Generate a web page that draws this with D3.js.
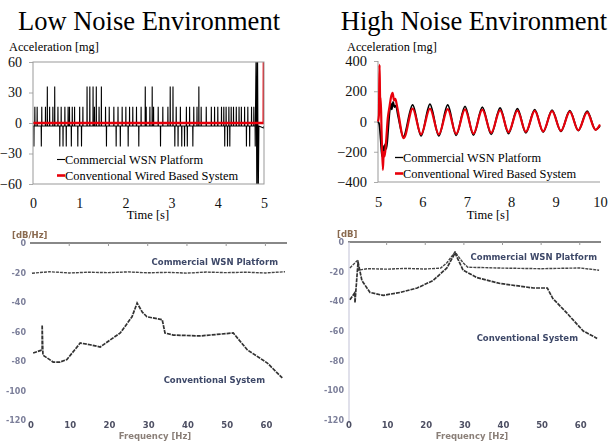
<!DOCTYPE html>
<html>
<head>
<meta charset="utf-8">
<script src="https://cdn.jsdelivr.net/npm/d3@7"></script>
<style>
    body { margin: 0; background: #fff; }
    svg { display: block; font-family: "Liberation Serif", "Times New Roman", serif; }
    .axis path { display: none; }
    .axis line { stroke: #aaa; }
    .spec text { font-family: "DejaVu Sans", sans-serif; font-weight: bold; }
</style>
</head>
<body>
<div id="vis-container"></div>
<script>
/* ---- data ---- */

// ticks
var lowYTicks = [-60, -30, 0, 30, 60];
var lowXTicks = [0, 1, 2, 3, 4, 5];
var highYTicks = [-400, -200, 0, 200, 400];
var highXTicks = [5, 6, 7, 8, 9, 10];
var freqTicks = [0, 10, 20, 30, 40, 50, 60];
var dbTicks = [0, -20, -40, -60, -80, -100, -120];

// low noise: WSN signal sits on a small offset and jumps in quantised steps
var lowWsnBase = -3;
var lowUp35Times = [0.31, 0.47, 1.17, 1.23, 1.30, 1.37, 1.48, 2.43, 2.58, 2.97, 3.03, 3.59];
var lowUp15Times = [0.04, 0.09, 0.19, 0.27, 0.36, 0.43, 0.54, 0.61, 0.69, 0.76, 0.79, 0.85, 0.90, 1.01, 1.08,
    1.33, 1.43, 1.57, 1.65, 1.75, 1.84, 1.93, 2.01, 2.09, 2.16, 2.24, 2.34, 2.45, 2.53, 2.61, 2.71, 2.81,
    2.92, 3.10, 3.19, 3.32, 3.39, 3.48, 3.55, 3.64, 3.75, 3.86, 3.93, 4.00, 4.08, 4.13, 4.18, 4.24, 4.29,
    4.34, 4.40, 4.46, 4.51, 4.58, 4.65, 4.73, 4.78];
var lowDown25Times = [0.02, 0.18, 0.58, 0.65, 0.72, 0.83, 0.97, 1.05, 1.59, 1.80, 1.89, 2.06, 2.29, 2.76,
    3.07, 3.14, 3.22, 3.28, 3.34, 3.46, 4.15, 4.21, 4.26, 4.62, 4.69, 4.81];
var lowEndTimes = [4.83, 4.845, 4.86, 4.875, 4.89, 4.99, 5.0];
var lowEndValues = [75, -75, 75, -75, -3, -5, -3];
var lowWiredTimes = [0, 4.995, 5.0];
var lowWiredValues = [0, 0, 75];

// high noise: damped oscillation
var highWiredTimes = [5.00, 5.02, 5.035, 5.048, 5.06, 5.08, 5.11, 5.13, 5.15, 5.18, 5.22, 5.26, 5.30, 5.33, 5.36,
    5.39, 5.43, 5.58, 5.78, 5.97, 6.17, 6.37, 6.57, 6.76, 6.96, 7.15, 7.35, 7.55, 7.75, 7.94, 8.14, 8.33,
    8.53, 8.72, 8.92, 9.12, 9.32, 9.51, 9.71, 9.90, 10.0];
var highWiredValues = [0, 40, 375, 150, 160, -60, -320, -200, -230, -140, 20, 100, 170, 190, 140,
    150, 100, -110, 85, -85, 85, -85, 82, -82, 80, -80, 78, -75, 75, -70, 72, -68,
    70, -65, 68, -62, 65, -58, 60, -55, -20];
var highWsnTimes = [5.00, 5.03, 5.06, 5.09, 5.11, 5.13, 5.16, 5.19, 5.23, 5.26, 5.29, 5.31, 5.34, 5.37, 5.40,
    5.45, 5.57, 5.78, 5.97, 6.17, 6.37, 6.57, 6.76, 6.96, 7.15, 7.35, 7.55, 7.75, 7.94, 8.14, 8.33,
    8.53, 8.72, 8.92, 9.12, 9.32, 9.51, 9.71, 9.90, 10.0];
var highWsnValues = [0, -20, -120, -230, -160, -220, -150, -180, -50, 60, 120, 80, 130, 95, 105,
    40, -100, 110, -95, 115, -95, 110, -92, 100, -90, 95, -85, 90, -80, 85, -75,
    78, -70, 75, -65, 72, -60, 68, -55, -30];

// spectra (Hz, dB)
var specLeftWsnHz = [0.5, 5, 10, 15, 20, 25, 30, 35, 40, 45, 50, 55, 60, 65];
var specLeftWsnDb = [-20.5, -19.5, -20.3, -19.8, -20.1, -19.6, -20.2, -19.9, -20.4, -19.7, -20.1, -19.8, -20.3, -19.5];
var specLeftConvHz = [0.8, 3.1, 3.1, 3.3, 5.9, 7.7, 9.4, 12.8, 15.3, 17.9, 20.4, 23, 26, 27.3, 28.6, 29.8,
    33.7, 34.4, 36.5, 43.4, 51.8, 55.4, 60.5, 64.3];
var specLeftConvDb = [-74.6, -72.5, -55.6, -76, -80.7, -80.7, -79, -67.8, -69, -70.5, -65.8, -61, -50, -40.7, -46.8, -50,
    -52, -61, -62.4, -63, -61, -72.5, -81.4, -91.5];
var specRightWsnHz = [0.5, 2.6, 2.6, 5, 10, 15, 20, 24, 25.6, 27.7, 29.8, 31, 40, 50, 60, 65];
var specRightWsnDb = [-17.5, -12, -19, -18, -18.3, -17.8, -18.2, -17.6, -14, -6.7, -14, -17, -17.6, -18, -17.5, -19];
var specRightConvHz = [0.5, 1.8, 1.8, 2.6, 3.6, 5.7, 9.1, 13.5, 17.9, 22, 25.6, 27.7, 29.8, 33.4, 39.4, 48,
    51.6, 53, 56.7, 60.9, 64.5];
var specRightConvDb = [-39, -34, -41, -13.5, -26, -34, -36, -34, -31, -26, -17.5, -7.4, -19, -24, -28, -31,
    -31, -38, -48, -60, -65];

/* ---- svg ---- */
var width = 610;
var height = 444;
var serif = "Liberation Serif, Times New Roman, serif";
var svg = d3.select("#vis-container").append("svg").attr("width", width).attr("height", height);
var defs = svg.append("defs");
defs.append("filter").attr("id", "soft")
    .append("feGaussianBlur").attr("stdDeviation", 0.75);

function zip(xs, ys) {
    return xs.map(function (x, i) { return {t: x, v: ys[i]}; });
}

// make d3 axis labels look like the spreadsheet ones
function styleAxis(g, size) {
    g.attr("font-family", serif).attr("font-size", size);
    g.selectAll("text")
        .attr("font-family", serif)
        .attr("font-size", size)
        .attr("fill", "#111");
}

// ---------- top left: low noise ----------
var xLow = d3.scaleLinear().domain([0, 5]).range([33, 264]);
var yLow = d3.scaleLinear().domain([-60, 60]).range([184, 62]);

defs.append("clipPath").attr("id", "clip-low").append("rect")
    .attr("x", 33).attr("y", 62).attr("width", 231).attr("height", 122);

svg.append("text").text("Low Noise Environment")
    .attr("x", 149).attr("y", 30).attr("text-anchor", "middle").attr("font-size", 26.5);
svg.append("text").text("Acceleration [mg]").attr("x", 9).attr("y", 51).attr("font-size", 12.3);

svg.append("g").attr("class", "axis")
    .attr("transform", "translate(33,0)")
    .call(d3.axisLeft(yLow).tickValues(lowYTicks).tickFormat(d3.format("d")).tickSize(4).tickPadding(7))
    .call(styleAxis, 14);
svg.append("g").attr("class", "axis")
    .attr("transform", "translate(0,184)")
    .call(d3.axisBottom(xLow).tickValues(lowXTicks).tickFormat(d3.format("d")).tickSize(0).tickPadding(14))
    .call(styleAxis, 14);
svg.append("text").text("Time [s]").attr("x", 148).attr("y", 219)
    .attr("text-anchor", "middle").attr("font-size", 12.5);

// build WSN trace from the spike lists
var lowSpikes = [];
lowUp35Times.forEach(function (t) { lowSpikes.push({t: t, v: 36}); });
lowUp15Times.forEach(function (t) { lowSpikes.push({t: t, v: 16}); });
lowDown25Times.forEach(function (t) { lowSpikes.push({t: t, v: -23}); });
lowSpikes.sort(function (a, b) { return a.t - b.t; });
var lowWsn = [{t: 0, v: lowWsnBase}];
lowSpikes.forEach(function (s) {
    lowWsn.push({t: s.t - 0.003, v: lowWsnBase}, {t: s.t, v: s.v}, {t: s.t + 0.003, v: lowWsnBase});
});
lowWsn = lowWsn.concat(zip(lowEndTimes, lowEndValues));

var lineLow = d3.line()
    .x(function (d) { return xLow(d.t); })
    .y(function (d) { return yLow(d.v); });

var lowPlot = svg.append("g").attr("clip-path", "url(#clip-low)");
lowPlot.append("path").datum(lowWsn).attr("d", lineLow)
    .attr("fill", "none").attr("stroke", "#000").attr("stroke-width", 1.1);
lowPlot.append("path").datum(zip(lowWiredTimes, lowWiredValues)).attr("d", lineLow)
    .attr("fill", "none").attr("stroke", "#e8000b").attr("stroke-width", 2.6);

svg.append("rect").attr("x", 33).attr("y", 62).attr("width", 231).attr("height", 122)
    .attr("fill", "none").attr("stroke", "#999").attr("stroke-width", 1);

// legend
var legLow = svg.append("g");
legLow.append("rect").attr("x", 55).attr("y", 151).attr("width", 185).attr("height", 31).attr("fill", "#fff");
legLow.append("line").attr("x1", 57).attr("x2", 65).attr("y1", 159.5).attr("y2", 159.5)
    .attr("stroke", "#000").attr("stroke-width", 1.1);
legLow.append("text").text("Commercial WSN Platform").attr("x", 65).attr("y", 164).attr("font-size", 12.4);
legLow.append("line").attr("x1", 57).attr("x2", 65).attr("y1", 175.5).attr("y2", 175.5)
    .attr("stroke", "#e8000b").attr("stroke-width", 2.6);
legLow.append("text").text("Conventional Wired Based System").attr("x", 65).attr("y", 180).attr("font-size", 12.4);

// ---------- top right: high noise ----------
var xHigh = d3.scaleLinear().domain([5, 10]).range([378, 600]);
var yHigh = d3.scaleLinear().domain([-400, 400]).range([182, 61]);

svg.append("text").text("High Noise Environment")
    .attr("x", 474).attr("y", 30).attr("text-anchor", "middle").attr("font-size", 26.5);
svg.append("text").text("Acceleration [mg]").attr("x", 347).attr("y", 51).attr("font-size", 12.3);

svg.append("g").attr("class", "axis")
    .attr("transform", "translate(378,0)")
    .call(d3.axisLeft(yHigh).tickValues(highYTicks).tickFormat(d3.format("d")).tickSize(4).tickPadding(7))
    .call(styleAxis, 14.5);
svg.append("g").attr("class", "axis")
    .attr("transform", "translate(0,182)")
    .call(d3.axisBottom(xHigh).tickValues(highXTicks).tickFormat(d3.format("d")).tickSize(0).tickPadding(15))
    .call(styleAxis, 14.5);
svg.append("text").text("Time [s]").attr("x", 488).attr("y", 219)
    .attr("text-anchor", "middle").attr("font-size", 12.5);

svg.append("line").attr("x1", 378).attr("x2", 378).attr("y1", 61).attr("y2", 182).attr("stroke", "#999");
svg.append("line").attr("x1", 378).attr("x2", 600).attr("y1", 182).attr("y2", 182).attr("stroke", "#999");

var lineHigh = d3.line()
    .x(function (d) { return xHigh(d.t); })
    .y(function (d) { return yHigh(d.v); })
    .curve(d3.curveMonotoneX);

svg.append("path").datum(zip(highWsnTimes, highWsnValues)).attr("d", lineHigh)
    .attr("fill", "none").attr("stroke", "#000").attr("stroke-width", 1.8);
svg.append("path").datum(zip(highWiredTimes, highWiredValues)).attr("d", lineHigh)
    .attr("fill", "none").attr("stroke", "#e8000b").attr("stroke-width", 2.2);

var legHigh = svg.append("g");
legHigh.append("line").attr("x1", 395).attr("x2", 403).attr("y1", 157.5).attr("y2", 157.5)
    .attr("stroke", "#000").attr("stroke-width", 1.3);
legHigh.append("text").text("Commercial WSN Platform").attr("x", 403).attr("y", 162).attr("font-size", 12.4);
legHigh.append("line").attr("x1", 395).attr("x2", 403).attr("y1", 173.5).attr("y2", 173.5)
    .attr("stroke", "#e8000b").attr("stroke-width", 2.6);
legHigh.append("text").text("Conventional Wired Based System").attr("x", 403).attr("y", 178).attr("font-size", 12.4);

// ---------- bottom: blurry spectra ----------
function drawSpectrum(opts) {
    var g = svg.append("g").attr("class", "spec").attr("filter", "url(#soft)");
    var x = d3.scaleLinear().domain([0, 65.5]).range([opts.left, opts.right]);
    var y = d3.scaleLinear().domain([0, -120]).range([opts.top, opts.bottom]);

    g.append("line").attr("x1", opts.left).attr("x2", opts.right).attr("y1", opts.top).attr("y2", opts.top)
        .attr("stroke", "#888").attr("stroke-width", 1.8);
    if (opts.yLine) {
        g.append("line").attr("x1", opts.left + 1).attr("x2", opts.left + 1).attr("y1", opts.top).attr("y2", opts.bottom + 3)
            .attr("stroke", "#ccd").attr("stroke-width", 1.2);
    }
    g.selectAll(".tk").data(freqTicks.slice(1)).enter().append("line")
        .attr("x1", function (d) { return x(d); }).attr("x2", function (d) { return x(d); })
        .attr("y1", opts.top).attr("y2", opts.top + 3).attr("stroke", "#999");

    g.selectAll(".yl").data(dbTicks).enter().append("text")
        .text(function (d) { return d; })
        .attr("x", opts.left - 4).attr("y", function (d) { return y(d) + 3; })
        .attr("text-anchor", "end").attr("font-size", 8).attr("fill", "#7c7f9a");
    g.selectAll(".xl").data(freqTicks).enter().append("text")
        .text(function (d) { return d; })
        .attr("x", function (d) { return x(d) + 1; }).attr("y", opts.bottom + 8)
        .attr("text-anchor", "middle").attr("font-size", 8.5).attr("fill", "#4d4f63");
    g.append("text").text("Frequency [Hz]").attr("x", opts.titleX).attr("y", opts.bottom + 19)
        .attr("text-anchor", "middle").attr("font-size", 8.5).attr("fill", "#8a7f78");
    g.append("text").text(opts.unit).attr("x", opts.unitX).attr("y", opts.top - 5)
        .attr("font-size", 8.5).attr("fill", "#8a6a50");

    var line = d3.line()
        .x(function (d) { return x(d.t); })
        .y(function (d) { return y(d.v); });
    g.append("path").datum(zip(opts.wsnHz, opts.wsnDb)).attr("d", line)
        .attr("fill", "none").attr("stroke", "#444").attr("stroke-width", 1.4).attr("stroke-dasharray", "3,1");
    g.append("path").datum(zip(opts.convHz, opts.convDb)).attr("d", line)
        .attr("fill", "none").attr("stroke", "#333").attr("stroke-width", 1.7).attr("stroke-dasharray", "4,1");

    g.append("text").text("Commercial WSN Platform").attr("x", opts.wsnLabel[0]).attr("y", opts.wsnLabel[1])
        .attr("text-anchor", "end").attr("font-size", 8.5).attr("fill", "#3e4868");
    g.append("text").text("Conventional System").attr("x", opts.convLabel[0]).attr("y", opts.convLabel[1])
        .attr("text-anchor", "end").attr("font-size", 8.5).attr("fill", "#3e4868");
}

drawSpectrum({
    left: 30, right: 287, top: 243, bottom: 420, yLine: false,
    titleX: 155, unit: "[dB/Hz]", unitX: 12,
    wsnHz: specLeftWsnHz, wsnDb: specLeftWsnDb, convHz: specLeftConvHz, convDb: specLeftConvDb,
    wsnLabel: [278, 265], convLabel: [265, 383]
});
drawSpectrum({
    left: 348, right: 601, top: 242, bottom: 420, yLine: true,
    titleX: 472, unit: "[dB]", unitX: 337,
    wsnHz: specRightWsnHz, wsnDb: specRightWsnDb, convHz: specRightConvHz, convDb: specRightConvDb,
    wsnLabel: [597, 260], convLabel: [578, 341]
});
</script>
</body>
</html>
